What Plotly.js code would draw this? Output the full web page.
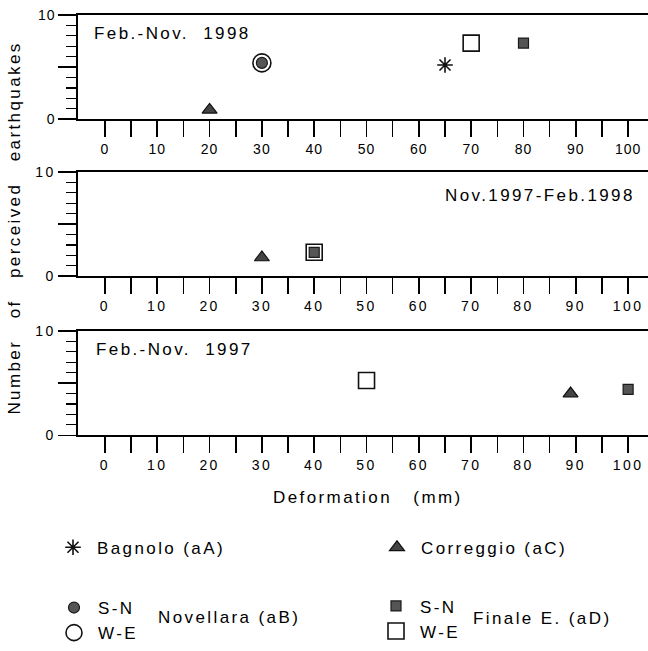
<!DOCTYPE html>
<html>
<head>
<meta charset="utf-8">
<script src="https://cdn.plot.ly/plotly-3.0.1.min.js"></script>
<style>
  html, body { margin: 0; padding: 0; background: #fff; }
  #chart { width: 648px; height: 651px; }
  /* wide plotter-style lettering */
  svg text { letter-spacing: 2.4px; }
  .xtick text, .ytick text { letter-spacing: 1px; }
</style>
</head>
<body>
<div id="chart"></div>
<script>
// Observation periods, one panel each (top to bottom)
const periodLabels = ['Feb.-Nov.  1998', 'Nov.1997-Feb.1998', 'Feb.-Nov.  1997'];

// Deformation axis ticks (mm)
const mmTicks = [0, 10, 20, 30, 40, 50, 60, 70, 80, 90, 100];
const mmMinorTicks = [5, 15, 25, 35, 45, 55, 65, 75, 85, 95];
const mmTickText = ['0', '10', '20', '30', '40', '50', '60', '70', '80', '90', '100'];

// Each station: panel number, deformation (mm), number of perceived earthquakes
const bagnoloPanel = [1];
const bagnoloMm = [65];
const bagnoloQuakes = [5.2];

const correggioPanel = [1, 2, 3];
const correggioMm = [20, 30, 89];
const correggioQuakes = [0.9, 1.8, 4.0];

const novellaraSNPanel = [1];
const novellaraSNMm = [30];
const novellaraSNQuakes = [5.4];

const novellaraWEPanel = [1];
const novellaraWEMm = [30];
const novellaraWEQuakes = [5.4];

const finaleSNPanel = [1, 2, 3];
const finaleSNMm = [80, 40, 100];
const finaleSNQuakes = [7.3, 2.3, 4.4];

const finaleWEPanel = [1, 2, 3];
const finaleWEMm = [70, 40, 50];
const finaleWEQuakes = [7.3, 2.3, 5.25];

const FONT = 'Liberation Sans, Arial, sans-serif';
const traces = [];

// One trace per panel for a station; only the first one is listed in its legend
function addStation(name, panels, mm, quakes, marker, legendId, rank) {
  const seen = [];
  panels.forEach(function (p) { if (seen.indexOf(p) < 0) seen.push(p); });
  seen.forEach(function (p, k) {
    const xs = [], ys = [];
    panels.forEach(function (q, i) { if (q === p) { xs.push(mm[i]); ys.push(quakes[i]); } });
    const suffix = p === 1 ? '' : String(p);
    traces.push({
      type: 'scatter', mode: 'markers', name: name,
      x: xs, y: ys,
      xaxis: 'x' + suffix, yaxis: 'y' + suffix,
      marker: marker,
      legend: legendId, legendrank: rank,
      showlegend: k === 0,
      hoverinfo: 'x+y+name'
    });
  });
}

const openLine = { color: '#111', width: 1.6 };
addStation('W-E', novellaraWEPanel, novellaraWEMm, novellaraWEQuakes,
  { symbol: 'circle-open', size: 18, color: '#111', line: openLine }, 'legend3', 2);
addStation('W-E', finaleWEPanel, finaleWEMm, finaleWEQuakes,
  { symbol: 'square-open', size: 16, color: '#111', line: openLine }, 'legend4', 2);
addStation('S-N', novellaraSNPanel, novellaraSNMm, novellaraSNQuakes,
  { symbol: 'circle', size: 11, color: '#555', line: { color: '#1a1a1a', width: 1.2 } }, 'legend3', 1);
addStation('S-N', finaleSNPanel, finaleSNMm, finaleSNQuakes,
  { symbol: 'square', size: 10, color: '#555', line: { color: '#1a1a1a', width: 1.2 } }, 'legend4', 1);
addStation('Bagnolo (aA)', bagnoloPanel, bagnoloMm, bagnoloQuakes,
  { symbol: 'asterisk-open', size: 13, color: '#111', line: { color: '#111', width: 1.6 } }, 'legend', 1);
addStation('Correggio (aC)', correggioPanel, correggioMm, correggioQuakes,
  { symbol: 'triangle-up', size: 13, color: '#444', line: { color: '#111', width: 1.2 } }, 'legend2', 1);

// Panel geometry: plot area starts at x=78px, y domains in page pixels
const W = 648, H = 651, L = 78;
const panelPx = [[15, 120], [173, 278], [333, 438]];
const px2x = function (px) { return (px - L) / (W - L); };
const px2y = function (py) { return 1 - py / H; };

const tickFont = { family: FONT, size: 14, color: '#000' };

function xAxis(anchor) {
  return {
    anchor: anchor, range: [-5.15, 103.8], fixedrange: true,
    showgrid: false, zeroline: false,
    showline: true, linecolor: '#000', linewidth: 1.6, mirror: true,
    ticks: 'outside', ticklen: 16, tickwidth: 1.6, tickcolor: '#000',
    tickmode: 'array', tickvals: mmTicks, ticktext: mmTickText,
    tickfont: tickFont, tickangle: 0,
    minor: { tickmode: 'array', tickvals: mmMinorTicks, ticks: 'outside',
             ticklen: 16, tickwidth: 1.6, tickcolor: '#000' },
    automargin: false
  };
}
function yAxis(anchor, i) {
  return {
    anchor: anchor, range: [0, 10], fixedrange: true,
    domain: [px2y(panelPx[i][1]), px2y(panelPx[i][0])],
    showgrid: false, zeroline: false,
    showline: true, linecolor: '#000', linewidth: 1.6,
    ticks: 'outside', ticklen: 18, tickwidth: 1.6, tickcolor: '#000',
    tickmode: 'array', tickvals: [0, 5, 10], ticktext: ['0', '', '10'],
    tickfont: tickFont,
    minor: { dtick: 1, ticks: 'outside', ticklen: 10, tickwidth: 1.2, tickcolor: '#000' },
    automargin: false
  };
}

const textFont = { family: FONT, size: 17, color: '#000' };
function label(text, px, py, xanchor, extra) {
  const a = { text: text, xref: 'paper', yref: 'paper', x: px2x(px), y: px2y(py),
              xanchor: xanchor, yanchor: 'middle', showarrow: false, font: textFont };
  return Object.assign(a, extra || {});
}
const annotations = [
  label('Number   of   perceived   earthquakes', 15, 230, 'center', { textangle: -90 }),
  label('Deformation   (mm)', 368, 501, 'center'),
  label(periodLabels[0], 92, 34, 'left'),
  label(periodLabels[1], 637, 197, 'right'),
  label(periodLabels[2], 94, 352, 'left'),
  label('Novellara (aB)', 156, 621, 'left'),
  label('Finale E. (aD)', 471, 622, 'left')
];

function legendAt(px, py) {
  return { x: px2x(px), y: px2y(py), xanchor: 'left', yanchor: 'top',
           bgcolor: 'rgba(0,0,0,0)', borderwidth: 0, font: textFont,
           itemwidth: 38, tracegroupgap: 0, itemclick: false, itemdoubleclick: false };
}

const layout = {
  width: W, height: H,
  margin: { l: L, r: 0, t: 0, b: 0, pad: 0 },
  paper_bgcolor: '#fff', plot_bgcolor: '#fff',
  font: { family: FONT, size: 14, color: '#000' },
  xaxis: xAxis('y'), yaxis: yAxis('x', 0),
  xaxis2: xAxis('y2'), yaxis2: yAxis('x2', 1),
  xaxis3: xAxis('y3'), yaxis3: yAxis('x3', 2),
  legend: legendAt(49, 533),
  legend2: legendAt(373, 533),
  legend3: legendAt(50, 594),
  legend4: legendAt(372, 592),
  annotations: annotations,
  showlegend: true
};

Plotly.newPlot('chart', traces, layout, { displayModeBar: false, staticPlot: true });
</script>
</body>
</html>
